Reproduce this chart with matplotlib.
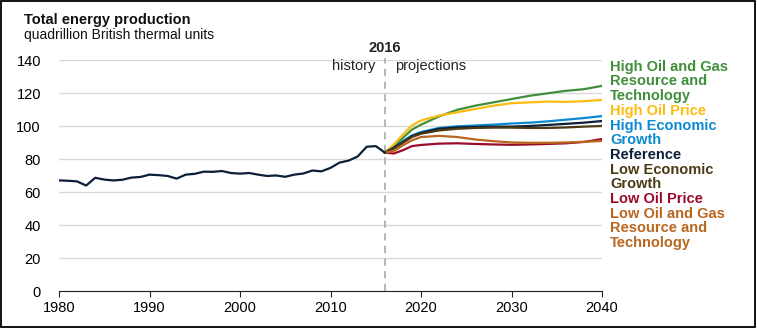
import matplotlib
matplotlib.use('Agg')
import matplotlib.pyplot as plt
import matplotlib.patches as patches

plt.rcParams['font.family'] = ['Liberation Sans', 'DejaVu Sans']

# history, quadrillion Btu
hist_years = list(range(1980, 2017))
hist_vals = [67.2, 67.0, 66.6, 64.1, 68.8, 67.7, 67.2, 67.6, 68.9, 69.3,
             70.7, 70.4, 69.9, 68.3, 70.7, 71.2, 72.5, 72.4, 72.9, 71.7,
             71.3, 71.7, 70.7, 69.9, 70.2, 69.4, 70.7, 71.4, 73.2, 72.7,
             74.8, 78.0, 79.2, 81.7, 87.6, 88.0, 84.1]

# projections
proj_years = [2016, 2017, 2018, 2019, 2020, 2022, 2024, 2026, 2028, 2030,
              2032, 2034, 2036, 2038, 2040]
hogrt = [84.1, 88.0, 93.0, 98.0, 101.0, 106.0, 110.0, 112.5, 114.5, 116.5,
         118.5, 120.0, 121.5, 122.5, 124.5]
hop = [84.1, 89.0, 95.0, 100.5, 103.5, 106.5, 108.5, 110.5, 112.5, 114.0,
       114.5, 115.0, 114.8, 115.2, 116.0]
high_econ = [84.1, 87.0, 91.0, 94.5, 96.5, 99.0, 100.0, 100.5, 101.0, 101.7,
             102.2, 103.0, 104.0, 105.0, 106.2]
reference = [84.1, 87.0, 90.5, 94.0, 96.0, 98.5, 99.3, 99.6, 99.8, 99.8,
             100.2, 100.8, 101.5, 102.2, 103.2]
low_econ = [84.1, 86.5, 90.0, 93.5, 95.5, 97.5, 98.5, 99.0, 99.2, 99.2,
            99.0, 99.0, 99.3, 99.8, 100.2]
lop = [84.1, 83.5, 85.5, 88.0, 88.7, 89.5, 89.7, 89.3, 89.0, 88.8,
       89.0, 89.3, 89.7, 90.5, 92.3]
logrt = [84.1, 85.0, 88.5, 91.5, 93.5, 94.2, 93.5, 92.0, 91.0, 90.2,
         90.0, 90.0, 90.2, 90.6, 91.1]

labels = ['High Oil and Gas\nResource and\nTechnology', 'High Oil Price',
          'High Economic\nGrowth', 'Reference', 'Low Economic\nGrowth',
          'Low Oil Price', 'Low Oil and Gas\nResource and\nTechnology']
series = [hogrt, hop, high_econ, reference, low_econ, lop, logrt]
colors = ['#3f8f3a', '#fbbc0f', '#0b8ad2', '#0b1f38', '#4b3a14', '#9b0b2a', '#b9661f']
draw_order = [6, 5, 4, 2, 3, 1, 0]

W, H = 757, 328
fig = plt.figure(figsize=(W / 100, H / 100), dpi=100)
ax = fig.add_axes([59 / W, 1 - 291.3 / H, (602 - 59) / W, (291.3 - 60.3) / H])

ax.plot(hist_years, hist_vals, color='#0b1f38', lw=1.6, zorder=5)
for i in draw_order:
    ax.plot(proj_years, series[i], color=colors[i], lw=1.6, zorder=3 + i * 0.1)

ax.set_xlim(1980, 2040)
ax.set_ylim(0, 140)
ax.set_xticks(range(1980, 2041, 10))
ax.set_yticks(range(0, 141, 20))
ax.grid(axis='y', color='#d9d9d9', lw=1)
ax.set_axisbelow(True)
for s in ['left', 'right', 'top']:
    ax.spines[s].set_visible(False)
ax.spines['bottom'].set_color('#222222')
ax.tick_params(axis='x', length=4, color='#222222', labelsize=10.5, pad=3)
ax.tick_params(axis='y', length=0, labelsize=10.5, pad=13)

ax.axvline(2016, ymin=0, ymax=1.01, color='#b0b0b0', lw=1.3, ls=(0, (4, 3)),
           clip_on=False, zorder=2)
ax.text(2016, 143.5, '2016', ha='center', va='bottom', fontsize=10.5,
        fontweight='bold', color='#222222')
ax.text(2015, 132.5, 'history', ha='right', va='bottom', fontsize=10.5, color='#222222')
ax.text(2017.1, 132.5, 'projections', ha='left', va='bottom', fontsize=10.5, color='#222222')

fig.text(24 / W, 1 - 20 / H, 'Total energy production', fontsize=10.5,
         fontweight='bold', va='center', color='#111111')
fig.text(24 / W, 1 - 34.5 / H, 'quadrillion British thermal units', fontsize=10,
         va='center', color='#111111')

# label column on the right
line_h = 14.7
y = 66.7
for lab, c in zip(labels, colors):
    for part in lab.split('\n'):
        fig.text(610 / W, 1 - y / H, part, fontsize=10.5, fontweight='bold',
                 color=c, va='center', ha='left')
        y += line_h

fig.patches.append(patches.Rectangle((1 / W, 1.5 / H), 753.5 / W, 1 - 2.5 / H,
                                     transform=fig.transFigure, fill=False,
                                     ec='black', lw=1.3))

fig.savefig('out.png', dpi=100)
